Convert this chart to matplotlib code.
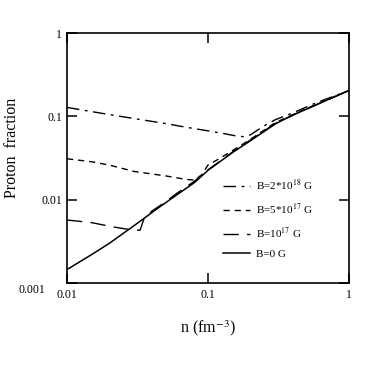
import numpy as np
import matplotlib
matplotlib.use("Agg")
import matplotlib.pyplot as plt
from matplotlib.transforms import ScaledTranslation

plt.rcParams["font.family"] = ["Liberation Serif", "DejaVu Serif"]
plt.rcParams["mathtext.fontset"] = "stix"

# Proton fraction vs density
n_b0 = [0.01, 0.015, 0.02, 0.03, 0.045, 0.06, 0.08, 0.1, 0.15, 0.2, 0.3, 0.4, 0.5, 0.7, 1.0]
y_b0 = [0.00145, 0.0022, 0.0030, 0.0049, 0.0081, 0.0114, 0.016, 0.0225, 0.037, 0.051, 0.081, 0.104, 0.122, 0.157, 0.204]

n_b17 = [0.01, 0.015, 0.02, 0.025, 0.03, 0.033, 0.035, 0.04, 0.05, 0.06, 0.08, 0.1, 0.15, 0.2, 0.3, 0.5, 1.0]
y_b17 = [0.0057, 0.0053, 0.0048, 0.0045, 0.0043, 0.0043, 0.0058, 0.0073, 0.0094, 0.0119, 0.0166, 0.0228, 0.0375, 0.052, 0.082, 0.123, 0.204]

n_b5e17 = [0.01, 0.015, 0.02, 0.03, 0.05, 0.07, 0.08, 0.09, 0.1, 0.12, 0.15, 0.2, 0.3, 0.5, 1.0]
y_b5e17 = [0.031, 0.0285, 0.026, 0.0218, 0.0193, 0.0175, 0.0172, 0.0198, 0.026, 0.031, 0.039, 0.053, 0.084, 0.124, 0.205]

n_b2e18 = [0.01, 0.015, 0.02, 0.03, 0.05, 0.07, 0.1, 0.13, 0.16, 0.18, 0.2, 0.25, 0.3, 0.4, 0.6, 1.0]
y_b2e18 = [0.128, 0.114, 0.105, 0.094, 0.082, 0.074, 0.067, 0.062, 0.058, 0.057, 0.060, 0.077, 0.091, 0.110, 0.148, 0.204]

labels = ["B=2*10$^{18}$ G", "B=5*10$^{17}$ G", "B=10$^{17}$ G", "B=0 G"]

fig = plt.figure(figsize=(3.74, 3.74), dpi=100)
ax = fig.add_axes([0.1791, 0.2433, 0.754, 0.6684])

lw = 1.0
ax.plot(n_b2e18, y_b2e18, color="black", lw=lw, linestyle=(0, (9, 4, 2, 4)), label=labels[0])
ax.plot(n_b5e17, y_b5e17, color="black", lw=lw, linestyle=(0, (4.5, 3.5)), label=labels[1])
ax.plot(n_b17, y_b17, color="black", lw=lw, linestyle=(0, (11, 6)), label=labels[2])
ax.plot(n_b0, y_b0, color="black", lw=1.1, linestyle="-", label=labels[3])

ax.set_xscale("log")
ax.set_yscale("log")
ax.set_xlim(0.01, 1)
ax.set_ylim(0.001, 1)

ax.set_xticks([0.01, 0.1, 1], ["0.01", "0.1", "1"])
ax.set_yticks([0.001, 0.01, 0.1, 1], ["0.001", "0.01", "0.1", "1"])
ax.minorticks_off()
ax.tick_params(which="major", direction="in", length=7.5, width=1.1,
               top=True, right=True, labelsize=8.5, color="black")
ax.tick_params(axis="y", pad=3.6)
ax.tick_params(axis="x", pad=4.5)

for sp in ax.spines.values():
    sp.set_linewidth(1.2)

# the 0.001 label sits lower-left, out of the way of the x label 0.01
lab = ax.get_yticklabels()[0]
lab.set_transform(lab.get_transform() + ScaledTranslation(-12 / 72, -4 / 72, fig.dpi_scale_trans))

ax.set_xlabel("n (fm$^{-3}$)", fontsize=11.5)
ax.set_ylabel("Proton  fraction", fontsize=11.5)
ax.xaxis.set_label_coords(0.5, -0.14)
ax.yaxis.set_label_coords(-0.168, 0.542)

ax.legend(loc="upper left", bbox_to_anchor=(0.553, 0.42), frameon=False,
          fontsize=8, handlelength=2.4, handletextpad=0.55,
          labelspacing=0.85, borderpad=0, borderaxespad=0)

fig.savefig("out.png", dpi=100)
